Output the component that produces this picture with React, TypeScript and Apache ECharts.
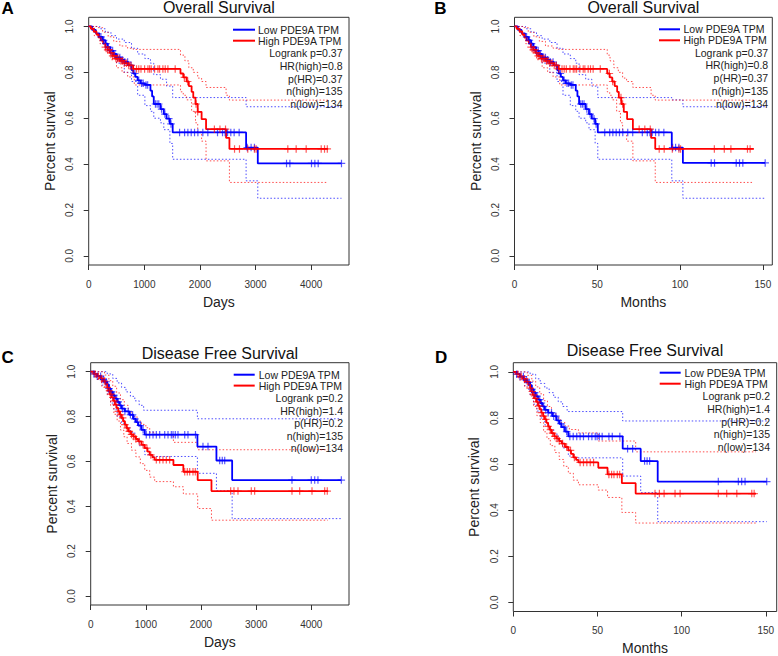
import React, { useEffect, useRef } from "react";
import * as echarts from "echarts";

const FONT = '"Liberation Sans", Arial, Helvetica, sans-serif';
const BLUE = "#0000ff";
const RED = "#ff0000";

const SERIES_NAMES = ["Low PDE9A TPM", "High PDE9A TPM"];
const TITLES = ["Overall Survival", "Overall Survival", "Disease Free Survival", "Disease Free Survival"];
const PANEL_LETTERS = ["A", "B", "C", "D"];
const X_NAMES = ["Days", "Months", "Days", "Months"];
const Y_NAME = "Percent survival";
const STATS_OS = ["Logrank p=0.37", "HR(high)=0.8", "p(HR)=0.37", "n(high)=135", "n(low)=134"];
const STATS_DFS = ["Logrank p=0.2", "HR(high)=1.4", "p(HR)=0.2", "n(high)=135", "n(low)=134"];
const X_TICKS_DAYS = [0, 1000, 2000, 3000, 4000];
const X_TICKS_MONTHS = [0, 50, 100, 150];
const Y_TICKS = [0, 0.2, 0.4, 0.6, 0.8, 1.0];

// ---------- Panel A : Overall survival, days ----------
const A_LOW_KM = [[0,1],[60,0.985],[130,0.97],[190,0.955],[250,0.94],[300,0.925],[340,0.91],[390,0.895],[440,0.88],[500,0.865],[570,0.855],[640,0.845],[710,0.83],[770,0.81],[800,0.795],[840,0.78],[880,0.765],[930,0.752],[1010,0.745],[1110,0.72],[1140,0.695],[1170,0.662],[1290,0.64],[1350,0.618],[1400,0.598],[1460,0.575],[1510,0.538],[2830,0.472],[3040,0.403],[4545,0.403]];
const A_HIGH_KM = [[0,1],[40,0.99],[90,0.978],[140,0.965],[180,0.952],[220,0.938],[260,0.925],[300,0.91],[340,0.898],[380,0.885],[430,0.872],[490,0.86],[560,0.85],[640,0.84],[720,0.83],[800,0.815],[1650,0.795],[1700,0.778],[1760,0.76],[1800,0.74],[1850,0.715],[1880,0.69],[1920,0.662],[1960,0.628],[2030,0.596],[2110,0.552],[2470,0.514],[2530,0.466],[4300,0.466]];
const A_LOW_CENS = [220,270,310,350,390,430,470,520,560,600,650,700,760,830,900,950,980,1030,1060,1200,1230,1260,1310,1370,1440,1480,1634,1724,1783,1843,1903,1963,2052,2142,2316,2406,2453,2496,2555,2615,2705,2850,2920,2980,3557,3617,4006,4066,4126,4545];
const A_HIGH_CENS = [300,340,370,400,430,460,490,520,550,580,610,640,680,720,760,800,860,900,940,1005,1065,1095,1124,1185,1245,1275,1334,1376,1424,1555,1720,1780,1930,1960,2260,2360,2460,2622,2711,2860,2980,3010,3580,3730,3910,4180,4240,4290];
const A_LOW_UP = [[0,1],[200,0.99],[300,0.975],[400,0.96],[500,0.945],[640,0.93],[770,0.905],[880,0.88],[1010,0.86],[1110,0.84],[1170,0.79],[1290,0.77],[1400,0.74],[1510,0.69],[2830,0.65],[4545,0.65]];
const A_LOW_LO = [[0,1],[100,0.97],[200,0.94],[300,0.905],[400,0.87],[500,0.84],[640,0.8],[770,0.76],[880,0.7],[1010,0.655],[1110,0.63],[1170,0.6],[1290,0.58],[1350,0.55],[1460,0.49],[1510,0.421],[2830,0.327],[3040,0.251],[4545,0.251]];
const A_HIGH_UP = [[0,1],[150,0.995],[250,0.975],[350,0.955],[450,0.935],[560,0.915],[700,0.905],[800,0.9],[1650,0.875],[1730,0.85],[1800,0.82],[1880,0.8],[1960,0.775],[2030,0.76],[2110,0.734],[2470,0.7],[2530,0.679],[4300,0.679]];
const A_HIGH_LO = [[0,1],[100,0.96],[200,0.925],[300,0.89],[400,0.855],[500,0.82],[600,0.8],[700,0.78],[820,0.745],[1650,0.715],[1700,0.7],[1760,0.68],[1850,0.63],[1920,0.58],[1960,0.54],[2030,0.5],[2110,0.414],[2530,0.32],[4300,0.32]];

// ---------- Panel B : Overall survival, months ----------
const B_LOW_KM = [[0,1],[2,0.985],[4.3,0.97],[6.3,0.955],[8.3,0.94],[10,0.925],[11.3,0.91],[13,0.895],[14.7,0.88],[16.7,0.865],[19,0.855],[21.3,0.845],[23.7,0.83],[25.7,0.81],[26.7,0.795],[28,0.78],[29.3,0.765],[31,0.752],[33.7,0.745],[37,0.72],[38,0.695],[39,0.662],[43,0.64],[45,0.618],[46.7,0.598],[48.7,0.575],[50.3,0.538],[95,0.472],[101.7,0.405],[151.4,0.405]];
const B_HIGH_KM = [[0,1],[1.3,0.99],[3,0.978],[4.7,0.965],[6,0.952],[7.3,0.938],[8.7,0.925],[10,0.91],[11.3,0.898],[12.7,0.885],[14.3,0.872],[16.3,0.86],[18.7,0.85],[21.3,0.84],[24,0.83],[26.7,0.815],[56,0.795],[57.5,0.778],[59,0.76],[60.5,0.74],[62,0.715],[63,0.69],[64.5,0.662],[66,0.628],[68,0.596],[71.5,0.552],[82.5,0.514],[85,0.466],[144.5,0.466]];
const B_LOW_CENS = [7.3,9,10.3,11.7,13,14.3,15.7,17.3,18.7,20,21.7,23.3,25.3,27.7,30,31.7,32.7,34.3,35.3,40,41,42,43.7,45.7,48,49.3,54.5,57.5,59.4,61.4,63.4,65.4,68.4,71.4,77.2,80.2,81.8,83.2,85.2,87.2,90.2,95.5,97.3,99.3,118.8,120.8,133.9,135.9,137.9,151.4];
const B_HIGH_CENS = [10,11.3,12.3,13.3,14.3,15.3,16.3,17.3,18.3,19.3,20.3,21.3,22.7,24,25.3,26.7,28.7,30,31.3,33.5,35.5,36.5,37.5,39.5,41.5,42.5,44.5,45.9,47.5,51.8,57.3,59.3,64.3,65.3,75.3,78.7,82,87.4,90.4,95.3,99.3,100.3,120.7,126.7,130.7,140.7,142.3];
const B_LOW_UP = [[0,1],[6.7,0.99],[10,0.975],[13.3,0.96],[16.7,0.945],[21.3,0.93],[25.7,0.905],[29.3,0.88],[33.7,0.86],[37,0.84],[39,0.79],[43,0.77],[46.7,0.74],[50.3,0.69],[95,0.68],[101.7,0.65],[151.4,0.65]];
const B_LOW_LO = [[0,1],[3.3,0.97],[6.7,0.94],[10,0.905],[13.3,0.87],[16.7,0.84],[21.3,0.8],[25.7,0.76],[29.3,0.7],[33.7,0.655],[37,0.63],[39,0.6],[43,0.58],[45,0.55],[48.7,0.49],[50.3,0.421],[95,0.327],[101.7,0.251],[151.4,0.251]];
const B_HIGH_UP = [[0,1],[5,0.995],[8.3,0.975],[11.7,0.955],[15,0.935],[18.7,0.915],[23.3,0.905],[26.7,0.9],[56,0.875],[57.7,0.85],[60,0.82],[62.7,0.8],[65.3,0.775],[67.7,0.76],[71.5,0.734],[82.5,0.7],[85,0.679],[144.5,0.679]];
const B_HIGH_LO = [[0,1],[3.3,0.96],[6.7,0.925],[10,0.89],[13.3,0.855],[16.7,0.82],[20,0.8],[23.3,0.78],[27.3,0.745],[56,0.715],[57.5,0.7],[59,0.68],[61.7,0.63],[64,0.58],[65.3,0.54],[67.7,0.5],[71.5,0.414],[85,0.32],[144.5,0.32]];

// ---------- Panel C : Disease free survival, days ----------
const C_LOW_KM = [[0,1],[60,0.99],[120,0.98],[190,0.965],[250,0.955],[300,0.943],[330,0.925],[360,0.91],[400,0.895],[440,0.88],[480,0.865],[520,0.85],[560,0.835],[620,0.823],[700,0.808],[770,0.79],[820,0.775],[860,0.76],[920,0.741],[980,0.719],[1935,0.666],[2280,0.604],[2565,0.517],[4545,0.517]];
const C_HIGH_KM = [[0,1],[50,0.99],[110,0.98],[170,0.97],[220,0.958],[270,0.945],[300,0.93],[320,0.915],[345,0.9],[375,0.885],[410,0.87],[440,0.853],[470,0.838],[500,0.823],[530,0.808],[560,0.794],[590,0.779],[620,0.764],[650,0.749],[680,0.734],[730,0.72],[770,0.711],[820,0.7],[860,0.689],[920,0.674],[980,0.659],[1030,0.644],[1070,0.629],[1120,0.618],[1160,0.607],[1500,0.584],[1680,0.554],[1940,0.517],[2190,0.468],[4300,0.468]];
const C_LOW_CENS = [60,120,180,230,280,330,380,420,470,500,540,580,620,680,720,760,800,850,900,950,1008,1069,1130,1190,1251,1342,1402,1462,1493,1534,1583,1705,1764,1900,2036,2127,2339,2386,2430,3650,4000,4062,4121,4545];
const C_HIGH_CENS = [80,140,200,250,300,340,370,400,430,460,500,540,580,620,660,700,740,780,820,880,950,1020,1090,1190,1251,1311,1371,1432,1705,1752,1795,1855,1897,2538,2598,2671,2912,2973,3650,3790,4013,4243,4290];
const C_LOW_UP = [[0,1],[300,0.99],[400,0.97],[480,0.95],[560,0.93],[640,0.91],[720,0.89],[800,0.87],[880,0.85],[960,0.828],[1935,0.79],[4545,0.79]];
const C_LOW_LO = [[0,1],[100,0.975],[200,0.94],[300,0.9],[360,0.86],[420,0.83],[480,0.8],[560,0.77],[640,0.75],[720,0.73],[800,0.7],[880,0.67],[980,0.63],[1100,0.622],[1935,0.547],[2280,0.469],[2565,0.345],[4545,0.345]];
const C_HIGH_UP = [[0,1],[150,1],[250,0.985],[330,0.96],[400,0.935],[470,0.905],[540,0.875],[610,0.85],[680,0.82],[760,0.8],[840,0.78],[920,0.765],[1000,0.75],[1070,0.73],[1160,0.719],[1500,0.685],[1940,0.652],[4300,0.652]];
const C_HIGH_LO = [[0,1],[100,0.965],[200,0.935],[300,0.895],[360,0.85],[420,0.81],[480,0.78],[540,0.74],[600,0.71],[660,0.68],[740,0.65],[820,0.62],[900,0.59],[980,0.56],[1070,0.53],[1160,0.51],[1500,0.487],[1680,0.455],[1940,0.39],[2190,0.338],[4300,0.338]];

// ---------- Panel D : Disease free survival, months ----------
const D_LOW_KM = [[0,1],[2,0.99],[4,0.98],[6.3,0.965],[8.3,0.955],[10,0.943],[11,0.925],[12,0.91],[13.3,0.895],[14.7,0.88],[16,0.865],[17.3,0.85],[18.7,0.835],[20.7,0.823],[23.3,0.808],[25.7,0.79],[27.3,0.775],[28.7,0.76],[30.7,0.741],[32.7,0.72],[65,0.667],[75.7,0.613],[85.8,0.524],[150.6,0.524]];
const D_HIGH_KM = [[0,1],[1.7,0.99],[3.7,0.98],[5.7,0.97],[7.3,0.958],[9,0.945],[10,0.93],[10.7,0.915],[11.5,0.9],[12.5,0.885],[13.7,0.87],[14.7,0.853],[15.7,0.838],[16.7,0.823],[17.7,0.808],[18.7,0.794],[19.7,0.779],[20.7,0.764],[21.7,0.749],[22.7,0.734],[24.3,0.72],[25.7,0.711],[27.3,0.7],[28.7,0.689],[30.7,0.674],[32.7,0.659],[34.3,0.644],[35.7,0.629],[37.3,0.618],[38.7,0.607],[50.5,0.584],[56,0.555],[64.5,0.517],[72.7,0.472],[144.2,0.472]];
const D_LOW_CENS = [2,4,6,7.7,9.3,11,12.7,14,15.7,16.7,18,19.3,20.7,22.7,24,25.3,26.7,28.3,30,31.7,33.6,35.6,37.7,39.7,41.7,44.7,46.7,48.7,49.8,51.1,52.8,56.8,58.8,63.3,67.9,70.9,78,79.5,81,121.8,133.7,135.7,137.7,150.6];
const D_HIGH_CENS = [2.7,4.7,6.7,8.3,10,11.3,12.3,13.3,14.3,15.3,16.7,18,19.3,20.7,22,23.3,24.7,26,27.3,29.3,31.7,34,36.3,39.7,41.7,43.7,45.7,47.7,56.8,58.4,59.8,61.8,63.2,84.2,86.8,89.6,96.1,99.1,121.8,126.8,132.8,141.7,143.1];
const D_LOW_UP = [[0,1],[10,0.99],[13.3,0.97],[16,0.95],[18.7,0.93],[21.3,0.91],[24,0.89],[26.7,0.87],[29.3,0.85],[32,0.828],[65,0.787],[150.6,0.787]];
const D_LOW_LO = [[0,1],[3.3,0.975],[6.7,0.94],[10,0.9],[12,0.86],[14,0.83],[16,0.8],[18.7,0.77],[21.3,0.75],[24,0.73],[26.7,0.7],[29.3,0.67],[32.7,0.635],[36.7,0.627],[65,0.548],[75.7,0.476],[85.8,0.35],[150.6,0.35]];
const D_HIGH_UP = [[0,1],[5,1],[8.3,0.985],[11,0.96],[13.3,0.935],[15.7,0.905],[18,0.875],[20.3,0.85],[22.7,0.82],[25.3,0.8],[28,0.78],[30.7,0.765],[33.3,0.75],[38.7,0.735],[50.5,0.7],[72.7,0.653],[144.2,0.653]];
const D_HIGH_LO = [[0,1],[3.3,0.965],[6.7,0.935],[10,0.895],[12,0.85],[14,0.81],[16,0.78],[18,0.74],[20,0.71],[22,0.68],[24.7,0.65],[27.3,0.62],[30,0.59],[32.7,0.56],[35.7,0.53],[38.7,0.51],[50.5,0.487],[56,0.455],[64.5,0.39],[72.7,0.344],[144.2,0.344]];

const PANEL_DATA = [
  { low: A_LOW_KM, high: A_HIGH_KM, lowC: A_LOW_CENS, highC: A_HIGH_CENS, lowUp: A_LOW_UP, lowLo: A_LOW_LO, highUp: A_HIGH_UP, highLo: A_HIGH_LO },
  { low: B_LOW_KM, high: B_HIGH_KM, lowC: B_LOW_CENS, highC: B_HIGH_CENS, lowUp: B_LOW_UP, lowLo: B_LOW_LO, highUp: B_HIGH_UP, highLo: B_HIGH_LO },
  { low: C_LOW_KM, high: C_HIGH_KM, lowC: C_LOW_CENS, highC: C_HIGH_CENS, lowUp: C_LOW_UP, lowLo: C_LOW_LO, highUp: C_HIGH_UP, highLo: C_HIGH_LO },
  { low: D_LOW_KM, high: D_HIGH_KM, lowC: D_LOW_CENS, highC: D_HIGH_CENS, lowUp: D_LOW_UP, lowLo: D_LOW_LO, highUp: D_HIGH_UP, highLo: D_HIGH_LO },
];

// layout (positions only)
const LAYOUT = [
  { grid: { left: 88.7, top: 17.3, width: 260.3, height: 247.7 }, xMax: 4680, ticks: X_TICKS_DAYS, stats: STATS_OS,
    title: [218.9, 7.7], letter: [1.5, 8.5], lineX: [233, 255], textX: 258, rightX: 342.5,
    rows: [29.7, 40.7, 53.2, 65.9, 78.6, 91.3, 104] },
  { grid: { left: 514.5, top: 17.3, width: 257.8, height: 247.7 }, xMax: 155.7, ticks: X_TICKS_MONTHS, stats: STATS_OS,
    title: [643.4, 7.7], letter: [434.3, 8.7], lineX: [659, 680], textX: 683.5, rightX: 768.2,
    rows: [29.3, 40.3, 52.7, 65.3, 78, 90.8, 104.3] },
  { grid: { left: 90.7, top: 362.7, width: 258.3, height: 242.3 }, xMax: 4684, ticks: X_TICKS_DAYS, stats: STATS_DFS,
    title: [219.9, 353.3], letter: [1.5, 357.5], lineX: [233.7, 254.7], textX: 258.7, rightX: 343,
    rows: [374.7, 385.6, 397.9, 410.5, 423.1, 435.7, 448.3] },
  { grid: { left: 513.3, top: 362.7, width: 263.4, height: 249 }, xMax: 156.5, ticks: X_TICKS_MONTHS, stats: STATS_DFS,
    title: [645, 350.8], letter: [435, 357], lineX: [659.7, 680.7], textX: 684.5, rightX: 770,
    rows: [372.7, 383.7, 396.3, 409, 421.7, 434.4, 447.3] },
];

const PLUS = "path://M-0.8,-5 H0.8 V-0.8 H5 V0.8 H0.8 V5 H-0.8 V0.8 H-5 V-0.8 H-0.8 Z";

function stepAt(curve: number[][], t: number): number {
  let v = curve[0][1];
  for (const p of curve) {
    if (p[0] <= t) v = p[1];
    else break;
  }
  return v;
}

function buildOption() {
  const grids: any[] = [];
  const xAxes: any[] = [];
  const yAxes: any[] = [];
  const series: any[] = [];
  const graphics: any[] = [];

  LAYOUT.forEach((L, i) => {
    const d = PANEL_DATA[i];
    grids.push({ ...L.grid, show: true, borderColor: "#333", borderWidth: 1, backgroundColor: "transparent", containLabel: false });
    xAxes.push({
      type: "value", gridIndex: i, min: 0, max: L.xMax,
      name: X_NAMES[i], nameLocation: "middle", nameGap: 29.5,
      nameTextStyle: { fontFamily: FONT, fontSize: 14, color: "#222" },
      axisLine: { show: false, onZero: false },
      axisTick: { show: true, length: 5, lineStyle: { color: "#333" }, customValues: L.ticks },
      axisLabel: { customValues: L.ticks, fontFamily: FONT, fontSize: 10, color: "#333", margin: 14,
        formatter: (v: number) => String(Math.round(v)) },
      splitLine: { show: false },
    });
    yAxes.push({
      type: "value", gridIndex: i, min: -0.04, max: 1.04,
      name: Y_NAME, nameLocation: "middle", nameGap: 32,
      nameTextStyle: { fontFamily: FONT, fontSize: 14, color: "#222" },
      axisLine: { show: false, onZero: false },
      axisTick: { show: true, length: 5, lineStyle: { color: "#333" }, customValues: Y_TICKS },
      axisLabel: { customValues: Y_TICKS, rotate: 90, fontFamily: FONT, fontSize: 10, color: "#333", margin: 14,
        formatter: (v: number) => v.toFixed(1) },
      splitLine: { show: false },
    });

    const ax = { xAxisIndex: i, yAxisIndex: i };
    const ci = (name: string, data: number[][], color: string) => ({
      type: "line", name, ...ax, data, step: "end", symbol: "none", silent: true, z: 1,
      lineStyle: { color, width: 1, type: [1.5, 2], opacity: 0.7 },
    });
    const km = (name: string, data: number[][], color: string) => ({
      type: "line", name, ...ax, data, step: "end", symbol: "none", silent: true, z: 3,
      lineStyle: { color, width: 1.8 },
    });
    const cens = (name: string, ts: number[], curve: number[][], color: string) => ({
      type: "scatter", name, ...ax, silent: true, z: 4,
      data: ts.map((t) => [t, stepAt(curve, t)]),
      symbol: PLUS, symbolSize: 7.5,
      itemStyle: { color, opacity: 0.65 },
    });
    series.push(ci(SERIES_NAMES[0] + " upper CI", d.lowUp, BLUE));
    series.push(ci(SERIES_NAMES[0] + " lower CI", d.lowLo, BLUE));
    series.push(ci(SERIES_NAMES[1] + " upper CI", d.highUp, RED));
    series.push(ci(SERIES_NAMES[1] + " lower CI", d.highLo, RED));
    series.push(km(SERIES_NAMES[0], d.low, BLUE));
    series.push(km(SERIES_NAMES[1], d.high, RED));
    series.push(cens(SERIES_NAMES[0] + " censored", d.lowC, d.low, BLUE));
    series.push(cens(SERIES_NAMES[1] + " censored", d.highC, d.high, RED));

    graphics.push({
      type: "text", x: L.title[0], y: L.title[1],
      style: { text: TITLES[i], font: `16px ${FONT}`, fill: "#111", textAlign: "center", textVerticalAlign: "middle", align: "center", verticalAlign: "middle" },
    });
    graphics.push({
      type: "text", x: L.letter[0], y: L.letter[1],
      style: { text: PANEL_LETTERS[i], font: `bold 17px ${FONT}`, fill: "#000", textAlign: "left", textVerticalAlign: "middle", align: "left", verticalAlign: "middle" },
    });
    [BLUE, RED].forEach((c, k) => {
      graphics.push({
        type: "line", shape: { x1: L.lineX[0], y1: L.rows[k], x2: L.lineX[1], y2: L.rows[k] },
        style: { stroke: c, lineWidth: 2 },
      });
      graphics.push({
        type: "text", x: L.textX, y: L.rows[k],
        style: { text: SERIES_NAMES[k], font: `10.5px ${FONT}`, lineHeight: 10, fill: "#222", textAlign: "left", textVerticalAlign: "middle", align: "left", verticalAlign: "middle" },
      });
    });
    L.stats.forEach((s, k) => {
      graphics.push({
        type: "text", x: L.rightX, y: L.rows[k + 2],
        style: { text: s, font: `10.5px ${FONT}`, lineHeight: 10, fill: "#222", textAlign: "right", textVerticalAlign: "middle", align: "right", verticalAlign: "middle" },
      });
    });
  });

  return {
    animation: false,
    backgroundColor: "#ffffff",
    textStyle: { fontFamily: FONT },
    grid: grids,
    xAxis: xAxes,
    yAxis: yAxes,
    series,
    graphic: { elements: graphics },
  };
}

export default function App() {
  const ref = useRef<HTMLDivElement>(null);
  useEffect(() => {
    if (!ref.current) return;
    const chart = echarts.init(ref.current, null, { renderer: "svg" });
    chart.setOption(buildOption() as any);
    return () => chart.dispose();
  }, []);
  return (
    <div
      ref={ref}
      style={{ position: "fixed", left: 0, top: 0, width: 778, height: 656, background: "#fff" }}
    />
  );
}
